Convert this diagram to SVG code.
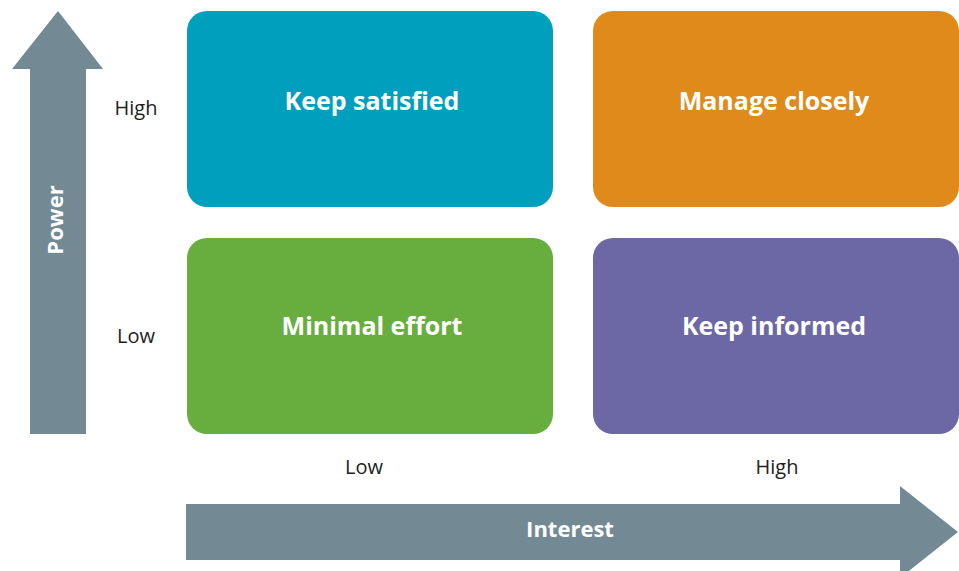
<svg xmlns="http://www.w3.org/2000/svg" width="959" height="571" viewBox="0 0 959 571">
<style>
.box text{font-family:"Open Sans","Noto Sans",sans-serif;font-weight:700;font-size:25px;fill:#fff;text-anchor:middle}
.lbl{font-family:"Open Sans","Noto Sans",sans-serif;font-size:20px;fill:#222;text-anchor:middle}
.axis{fill:#738a94}
.axt{font-family:"Open Sans","Noto Sans",sans-serif;font-weight:700;font-size:22px;fill:#fff;text-anchor:middle}
</style>
<rect width="959" height="571" fill="#fff"/>
<g id="connectors">
<g id="power-axis">
<polygon class="axis" points="58,11 103,69 86,69 86,434 30,434 30,69 12,69"/>
<text class="axt" transform="translate(63,220) rotate(-90)">Power</text>
</g>
<g id="interest-axis">
<polygon class="axis" points="186,504 900,504 900,486 958,532 900,578 900,560 186,560"/>
<text class="axt" x="570" y="537">Interest</text>
</g>
</g>
<g id="labels">
<text class="lbl" x="136" y="115">High</text>
<text class="lbl" x="136" y="343">Low</text>
<text class="lbl" x="364" y="474">Low</text>
<text class="lbl" x="777" y="474">High</text>
</g>
<g id="keep-satisfied" class="box">
<rect x="187" y="11" width="366" height="196" rx="20" fill="#009fbd"/>
<text x="372" y="110">Keep satisfied</text>
</g>
<g id="manage-closely" class="box">
<rect x="593" y="11" width="366" height="196" rx="20" fill="#e08a1b"/>
<text x="774" y="110">Manage closely</text>
</g>
<g id="minimal-effort" class="box">
<rect x="187" y="238" width="366" height="196" rx="20" fill="#67ae3e"/>
<text x="372" y="335">Minimal effort</text>
</g>
<g id="keep-informed" class="box">
<rect x="593" y="238" width="366" height="196" rx="20" fill="#6c67a5"/>
<text x="774" y="335">Keep informed</text>
</g>
</svg>
